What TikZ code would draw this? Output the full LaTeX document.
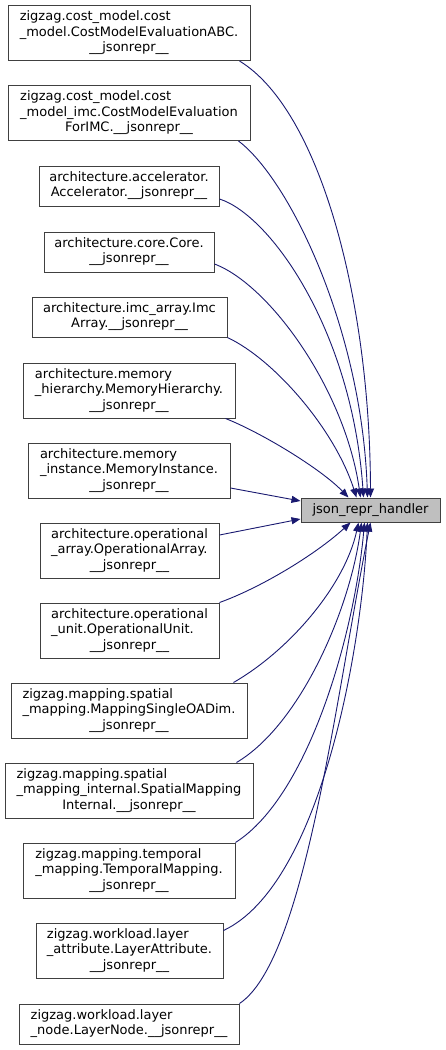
\documentclass[tikz,border=0pt]{standalone}
\usepackage{fontspec}
\setmainfont{DejaVu Sans}
\usetikzlibrary{arrows.meta,calc}
\definecolor{edgeblue}{HTML}{191970}
\definecolor{boxgray}{HTML}{BFBFBF}
\definecolor{boxline}{HTML}{404040}
\newcommand\boxlines[1]{\fontsize{13}{15.5}\selectfont\begin{tabular}{@{}l@{}}#1\end{tabular}}
\newcommand\lastline[1]{\multicolumn{1}{@{}c@{}}{#1}}
\begin{document}
\begin{tikzpicture}[x=1pt,y=-1pt,
  box/.style={draw=boxline,fill=white,line width=1pt,inner sep=0pt,anchor=center},
  edge/.style={draw=edgeblue,line width=0.9pt,-{Triangle[length=9pt,width=7pt]}}]
\useasboundingbox (0,0) rectangle (445,1050);
\node[box,minimum width=242pt,minimum height=55pt] (n1) at (129,33) {\boxlines{zigzag.cost\_model.cost\\\_model.CostModelEvaluationABC.\\\lastline{\_\_jsonrepr\_\_}}};
\node[box,minimum width=242pt,minimum height=55pt] (n2) at (129,113) {\boxlines{zigzag.cost\_model.cost\\\_model\_imc.CostModelEvaluation\\\lastline{ForIMC.\_\_jsonrepr\_\_}}};
\node[box,minimum width=180pt,minimum height=40pt] (n3) at (129,186) {\boxlines{architecture.accelerator.\\\lastline{Accelerator.\_\_jsonrepr\_\_}}};
\node[box,minimum width=170pt,minimum height=40pt] (n4) at (129,252) {\boxlines{architecture.core.Core.\\\lastline{\_\_jsonrepr\_\_}}};
\node[box,minimum width=195pt,minimum height=40pt] (n5) at (129.5,317) {\boxlines{architecture.imc\_array.Imc\\\lastline{Array.\_\_jsonrepr\_\_}}};
\node[box,minimum width=212pt,minimum height=55pt] (n6) at (129,390.5) {\boxlines{architecture.memory\\\_hierarchy.MemoryHierarchy.\\\lastline{\_\_jsonrepr\_\_}}};
\node[box,minimum width=202pt,minimum height=55pt] (n7) at (129,470.5) {\boxlines{architecture.memory\\\_instance.MemoryInstance.\\\lastline{\_\_jsonrepr\_\_}}};
\node[box,minimum width=179pt,minimum height=55pt] (n8) at (129.5,550.5) {\boxlines{architecture.operational\\\_array.OperationalArray.\\\lastline{\_\_jsonrepr\_\_}}};
\node[box,minimum width=179pt,minimum height=55pt] (n9) at (129.5,630.5) {\boxlines{architecture.operational\\\_unit.OperationalUnit.\\\lastline{\_\_jsonrepr\_\_}}};
\node[box,minimum width=236pt,minimum height=55pt] (n10) at (129,710.5) {\boxlines{zigzag.mapping.spatial\\\_mapping.MappingSingleOADim.\\\lastline{\_\_jsonrepr\_\_}}};
\node[box,minimum width=248pt,minimum height=55pt] (n11) at (129,790.5) {\boxlines{zigzag.mapping.spatial\\\_mapping\_internal.SpatialMapping\\\lastline{Internal.\_\_jsonrepr\_\_}}};
\node[box,minimum width=212pt,minimum height=55pt] (n12) at (129,870.5) {\boxlines{zigzag.mapping.temporal\\\_mapping.TemporalMapping.\\\lastline{\_\_jsonrepr\_\_}}};
\node[box,minimum width=187pt,minimum height=55pt] (n13) at (129.5,950.5) {\boxlines{zigzag.workload.layer\\\_attribute.LayerAttribute.\\\lastline{\_\_jsonrepr\_\_}}};
\node[box,minimum width=220pt,minimum height=40pt] (n14) at (129,1024) {\boxlines{zigzag.workload.layer\\\lastline{\_node.LayerNode.\_\_jsonrepr\_\_}}};
\node[box,fill=boxgray,minimum width=139pt,minimum height=24pt] (t) at (370.5,510) {\fontsize{13}{15.5}\selectfont json\_repr\_handler};
% edges
\draw[edge] ($(n1.south east)+(-11,0)$) .. controls (320,110) and (370,300) .. ($(t.north west)+(70,0)$);
\draw[edge] ($(n2.south east)+(-12,0)$) .. controls (290,180) and (362,330) .. ($(t.north west)+(67,0)$);
\draw[edge] ($(n3.east)+(0,13)$) .. controls (270,215) and (352,330) .. ($(t.north west)+(63,0)$);
\draw[edge] ($(n4.east)+(0,12)$) .. controls (270,285) and (345,390) .. ($(t.north west)+(60,0)$);
\draw[edge] (n5.south east) .. controls (275,360) and (335,430) .. ($(t.north west)+(56,0)$);
\draw[edge] ($(n6.south east)+(-10,0)$) .. controls (260,432) and (320,468) .. ($(t.north west)+(48,0)$);
\draw[edge] ($(n7.east)+(0,17.5)$) -- ($(t.west)+(0,-9)$);
\draw[edge] ($(n8.east)+(0,-15.5)$) -- ($(t.west)+(0,9)$);
\draw[edge] (n9.north east) .. controls (260,588) and (315,555) .. ($(t.south west)+(50,0)$);
\draw[edge] ($(n10.north east)+(-14,0)$) .. controls (290,650) and (345,585) .. ($(t.south west)+(58,0)$);
\draw[edge] ($(n11.north east)+(-17,0)$) .. controls (300,725) and (350,610) .. ($(t.south west)+(61,0)$);
\draw[edge] (n12.north east) .. controls (310,795) and (355,630) .. ($(t.south west)+(64,0)$);
\draw[edge] ($(n13.north east)+(0,8)$) .. controls (320,885) and (362,650) .. ($(t.south west)+(67,0)$);
\draw[edge] (n14.north east) .. controls (305,960) and (335,700) .. ($(t.south west)+(70,0)$);
\end{tikzpicture}
\end{document}
